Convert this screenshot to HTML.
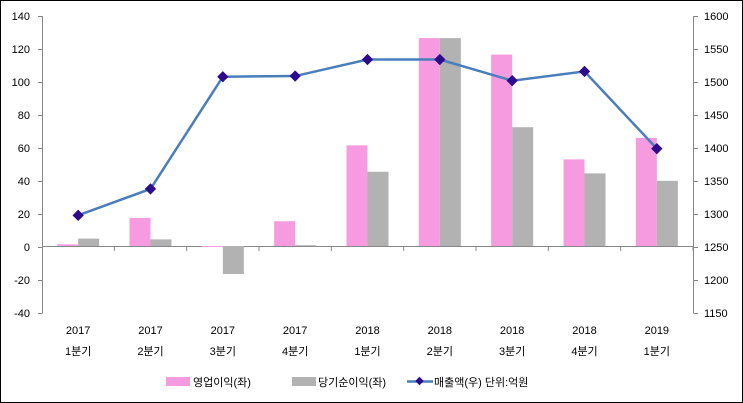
<!DOCTYPE html><html><head><meta charset="utf-8"><style>body{margin:0}svg{display:block}text{font-family:"Liberation Sans","Noto Sans CJK KR",sans-serif;font-size:11px;fill:#000}</style></head><body>
<svg width="743" height="403" viewBox="0 0 743 403">
<rect x="0.5" y="0.5" width="742" height="402" fill="#fff" stroke="#000"/>
<g stroke="#888" fill="none">
<line x1="42.5" y1="16" x2="42.5" y2="313"/>
<line x1="693.5" y1="16" x2="693.5" y2="313"/>
<line x1="42" y1="246.5" x2="694" y2="246.5"/>
</g>
<g id="g"></g>
<script>
const NS="http://www.w3.org/2000/svg",g=document.getElementById('g');
function el(t,a,tx){const e=document.createElementNS(NS,t);for(const k in a)e.setAttribute(k,a[k]);if(tx!==undefined)e.textContent=String(tx);g.appendChild(e);return e;}
for(let i=0;i<10;i++){const y=16+i*33;
el('line',{x1:38,x2:42.5,y1:y+.5,y2:y+.5,stroke:'#888'});
el('line',{x1:693.5,x2:698,y1:y+.5,y2:y+.5,stroke:'#888'});
el('text',{x:30,y:y+4,'text-anchor':'end'},140-20*i);
el('text',{x:704,y:y+4},1600-50*i);}
const W=(693-42)/9,yl=v=>246-v*33/20,yr=v=>313-(v-1150)*33/50;
const P=[1,17,-0.5,15,61,126,116,52.5,65.5],G=[4.5,4,-17,0.5,45,126,72,44,39.5],L=[1298,1338,1508,1509,1534,1534,1502,1516,1399];
const yrs=['2017','2017','2017','2017','2018','2018','2018','2018','2019'],q=['1','2','3','4','1','2','3','4','1'];
let pts=[];
for(let i=0;i<9;i++){const c=42+W*(i+.5);
el('line',{x1:42+W*(i+1),x2:42+W*(i+1),y1:246,y2:251,stroke:'#888'});
const r=(x,v,col)=>{const a=yl(v),b=246;el('rect',{x:x,y:Math.min(a,b),width:21,height:Math.max(Math.abs(a-b),1),fill:col});};
r(c-21,P[i],'#f79be0');r(c,G[i],'#b2b2b2');
pts.push([c,yr(L[i])]);
el('text',{x:c,y:334,'text-anchor':'middle'},yrs[i]);
el('text',{x:c,y:355,'text-anchor':'middle'},q[i]+'분기');}
el('polyline',{points:pts.map(p=>p.join(',')).join(' '),fill:'none',stroke:'#4a7ebb','stroke-width':2.5});
pts.forEach(p=>el('rect',{x:p[0]-4,y:p[1]-4,width:8,height:8,fill:'#2e0a8c',transform:`rotate(45 ${p[0]} ${p[1]})`}));
el('rect',{x:166,y:377,width:24,height:9,fill:'#f79be0'});
el('text',{x:193,y:386},'영업이익(좌)');
el('rect',{x:292,y:377,width:24,height:9,fill:'#b2b2b2'});
el('text',{x:318,y:386},'당기순이익(좌)');
el('line',{x1:407,x2:433,y1:381.5,y2:381.5,stroke:'#4a7ebb','stroke-width':2.5});
el('rect',{x:416.5,y:378,width:6,height:6,fill:'#2e0a8c',transform:'rotate(45 419.5 381)'});
el('text',{x:434,y:386},'매출액(우)  단위:억원');
</script>
</svg></body></html>
